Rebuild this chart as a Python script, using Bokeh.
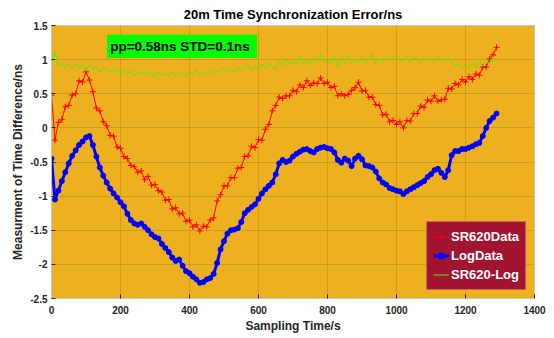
from bokeh.plotting import figure
from bokeh.models import Range1d, FixedTicker, Legend, LegendItem, BoxAnnotation, Label
from bokeh.embed import file_html
from bokeh.resources import INLINE

# ---------------- data ----------------
sampling_time = list(range(0, 1300, 10))

sr620_data = [
    0.48, -0.18, 0.08, 0.12, 0.31, 0.33, 0.48, 0.50, 0.69, 0.67,
    0.82, 0.70, 0.53, 0.29, 0.25, 0.09, 0.03, -0.11, -0.12, -0.28,
    -0.30, -0.42, -0.45, -0.55, -0.57, -0.65, -0.63, -0.76, -0.71, -0.84,
    -0.83, -0.92, -0.94, -1.06, -1.05, -1.19, -1.17, -1.26, -1.25, -1.37,
    -1.35, -1.45, -1.42, -1.51, -1.44, -1.45, -1.35, -1.32, -1.07, -0.98,
    -0.85, -0.85, -0.73, -0.73, -0.59, -0.58, -0.42, -0.41, -0.27, -0.29,
    -0.17, -0.18, -0.02, 0.05, 0.25, 0.33, 0.45, 0.43, 0.47, 0.47,
    0.55, 0.53, 0.63, 0.59, 0.69, 0.62, 0.66, 0.65, 0.73, 0.65,
    0.67, 0.59, 0.61, 0.47, 0.50, 0.47, 0.49, 0.55, 0.59, 0.67,
    0.54, 0.55, 0.45, 0.45, 0.34, 0.33, 0.19, 0.20, 0.09, 0.11,
    0.05, 0.09, 0.00, 0.11, 0.10, 0.21, 0.21, 0.32, 0.30, 0.41,
    0.39, 0.47, 0.39, 0.41, 0.42, 0.58, 0.57, 0.65, 0.63, 0.71,
    0.67, 0.75, 0.71, 0.79, 0.77, 0.89, 0.89, 1.01, 1.07, 1.18,
]

log_data = [
    -0.45, -1.05, -0.92, -0.78, -0.65, -0.52, -0.41, -0.33, -0.25, -0.20,
    -0.14, -0.12, -0.25, -0.42, -0.58, -0.70, -0.80, -0.89, -0.96, -1.02,
    -1.09, -1.15, -1.26, -1.35, -1.40, -1.42, -1.40, -1.45, -1.50, -1.56,
    -1.60, -1.62, -1.70, -1.76, -1.82, -1.90, -1.95, -1.93, -2.02, -2.10,
    -2.13, -2.18, -2.22, -2.27, -2.26, -2.22, -2.20, -2.14, -1.98, -1.78,
    -1.66, -1.55, -1.50, -1.49, -1.47, -1.38, -1.25, -1.20, -1.16, -1.12,
    -1.04, -0.96, -0.90, -0.85, -0.80, -0.68, -0.52, -0.47, -0.50, -0.48,
    -0.42, -0.38, -0.35, -0.32, -0.31, -0.34, -0.36, -0.31, -0.29, -0.28,
    -0.30, -0.31, -0.36, -0.47, -0.51, -0.45, -0.48, -0.56, -0.45, -0.41,
    -0.46, -0.55, -0.56, -0.58, -0.64, -0.74, -0.80, -0.83, -0.88, -0.90,
    -0.92, -0.93, -0.97, -0.93, -0.90, -0.87, -0.84, -0.81, -0.78, -0.72,
    -0.68, -0.62, -0.60, -0.66, -0.72, -0.62, -0.40, -0.34, -0.34, -0.31,
    -0.31, -0.29, -0.27, -0.24, -0.22, -0.12, 0.00, 0.10, 0.15, 0.21,
]

sr620_minus_log = [
    0.95, 1.12, 0.90, 0.96, 0.88, 0.93, 0.86, 0.95, 0.89, 0.92,
    0.84, 0.93, 0.87, 0.90, 0.82, 0.88, 0.85, 0.80, 0.87, 0.83,
    0.78, 0.86, 0.80, 0.84, 0.76, 0.82, 0.79, 0.85, 0.77, 0.81,
    0.75, 0.83, 0.78, 0.80, 0.74, 0.82, 0.77, 0.84, 0.79, 0.76,
    0.82, 0.78, 0.85, 0.76, 0.81, 0.79, 0.86, 0.80, 0.84, 0.82,
    0.88, 0.83, 0.86, 0.80, 0.89, 0.84, 0.87, 0.92, 0.85, 0.90,
    0.86, 0.93, 0.88, 0.95, 0.90, 0.86, 0.97, 0.91, 1.02, 0.94,
    0.98, 0.92, 1.05, 0.95, 1.00, 0.93, 1.03, 0.97, 1.08, 0.96,
    1.00, 0.94, 1.04, 0.90, 1.02, 0.96, 1.06, 0.93, 1.01, 0.97,
    1.05, 0.95, 1.00, 1.08, 0.94, 1.02, 0.97, 1.04, 0.99, 1.03,
    1.06, 0.98, 1.01, 1.05, 0.96, 1.03, 1.00, 0.95, 1.04, 0.99,
    1.02, 0.97, 1.05, 1.00, 0.96, 1.03, 0.98, 0.90, 0.94, 0.87,
    0.92, 0.86, 0.95, 0.89, 0.98, 0.91, 1.00, 0.93, 1.04, 0.96,
]

series_names = ["SR620Data", "LogData", "SR620-Log"]
x_ticks = [0, 200, 400, 600, 800, 1000, 1200, 1400]
y_ticks = [-2.5, -2, -1.5, -1, -0.5, 0, 0.5, 1, 1.5]
y_tick_labels = ["-2.5", "-2", "-1.5", "-1", "-0.5", "0", "0.5", "1", "1.5"]
title_text = "20m Time Synchronization Error/ns"
x_label = "Sampling Time/s"
y_label = "Measurment of Time Difference/ns"
note_text = "pp=0.58ns STD=0.1ns"

assert len(sr620_data) == len(sampling_time) == len(log_data) == len(sr620_minus_log)

FONT = "Liberation Sans"
DARK = "#262626"

p = figure(width=554, height=338, output_backend="svg", toolbar_location=None,
           x_range=Range1d(0, 1400), y_range=Range1d(-2.5, 1.5),
           min_border_left=51, min_border_right=20, min_border_top=24,
           min_border_bottom=40)

p.background_fill_color = "#EDB120"
p.border_fill_color = "white"
p.outline_line_color = "#c4c4c4"

p.title.text = title_text
p.title.align = "center"
p.title.text_font = FONT
p.title.text_font_size = "13px"
p.title.text_font_style = "bold"
p.title.text_color = "black"
p.title.standoff = 8

for ax in (p.xaxis[0], p.yaxis[0]):
    ax.major_tick_in = 4
    ax.major_tick_out = 0
    ax.minor_tick_in = 0
    ax.minor_tick_out = 0
    ax.axis_line_color = "#c4c4c4"
    ax.major_tick_line_color = DARK
    ax.major_label_text_font = FONT
    ax.major_label_text_font_size = "10px"
    ax.major_label_text_font_style = "bold"
    ax.major_label_text_color = DARK
    ax.axis_label_text_font = FONT
    ax.axis_label_text_font_size = "12px"
    ax.axis_label_text_font_style = "bold"
    ax.axis_label_text_color = DARK

p.xaxis.ticker = FixedTicker(ticks=x_ticks)
p.yaxis.ticker = FixedTicker(ticks=y_ticks)
p.yaxis.major_label_overrides = {t: s for t, s in zip(y_ticks, y_tick_labels)}
p.xaxis.axis_label = x_label
p.yaxis.axis_label = y_label
p.xaxis.major_label_standoff = 7
p.xaxis.axis_label_standoff = 2
p.yaxis.major_label_standoff = 4
p.yaxis.axis_label_standoff = 2

p.xgrid.ticker = FixedTicker(ticks=x_ticks)
p.ygrid.ticker = FixedTicker(ticks=y_ticks)
p.grid.grid_line_color = DARK
p.grid.grid_line_alpha = 0.15

# green annotation box
p.add_layout(BoxAnnotation(left=161, right=596, bottom=1.023, top=1.364,
                           fill_color="#00FF00", fill_alpha=1.0, line_color=None))
p.add_layout(Label(x=170, y=1.19, text=note_text, text_baseline="middle",
                   text_font=FONT, text_font_size="13.5px", text_font_style="bold",
                   text_color="black"))

# series
r_line = p.line(sampling_time, sr620_data, line_color="#FF0000", line_width=1)
r_mark = p.scatter(sampling_time, sr620_data, marker="cross", size=6,
                   line_color="#FF0000", line_width=1)
b_line = p.line(sampling_time, log_data, line_color="#0000FF", line_width=3)
b_mark = p.scatter(sampling_time, log_data, marker="circle", size=5,
                   fill_color="#0000FF", line_color="#0000FF")
g_line = p.line(sampling_time, sr620_minus_log, line_color="#55EE00", line_width=1)

legend = Legend(items=[
    LegendItem(label=series_names[0], renderers=[r_line, r_mark]),
    LegendItem(label=series_names[1], renderers=[b_line, b_mark]),
    LegendItem(label=series_names[2], renderers=[g_line]),
], location="bottom_right")
legend.margin = 8
legend.padding = 6
legend.spacing = 2
legend.glyph_width = 16
legend.glyph_height = 17
legend.label_height = 17
legend.label_standoff = 2
legend.label_text_font = FONT
legend.label_text_font_size = "13px"
legend.label_text_font_style = "bold"
legend.label_text_color = "white"
legend.background_fill_color = "#A2142F"
legend.background_fill_alpha = 1.0
legend.border_line_color = "#E0C090"
legend.border_line_width = 1
p.add_layout(legend)

open("out.html", "w").write(file_html(p, INLINE))
